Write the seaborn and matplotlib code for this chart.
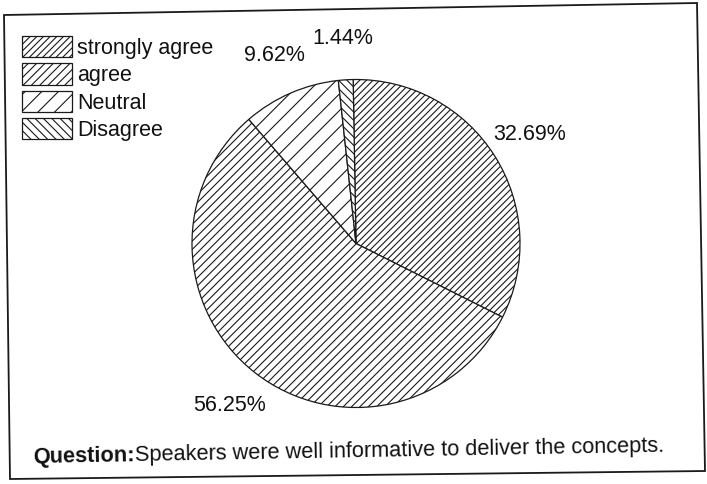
import numpy as np
import matplotlib
matplotlib.use("Agg")
import matplotlib.pyplot as plt
import seaborn as sns
from matplotlib.patches import Polygon

# Survey responses
categories = ["strongly agree", "agree", "Neutral", "Disagree"]
shares = [32.69, 56.25, 9.62, 1.44]
question_label = "Question:"
question_text = "Speakers were well informative to deliver the concepts."

sns.set_theme(style="white")
plt.rcParams["font.family"] = ["Liberation Sans", "DejaVu Sans"]
plt.rcParams["hatch.linewidth"] = 0.8
plt.rcParams["hatch.color"] = "#1a1a1a"

W, H = 707, 484
fig = plt.figure(figsize=(W / 100, H / 100), dpi=100)
fig.patch.set_facecolor("white")

# pie axes: centre (356, 243.5) px, radius 164 px
cx, cy, r = 356, 243.5, 164
ax = fig.add_axes([(cx - r) / W, (H - cy - r) / H, 2 * r / W, 2 * r / H])

hatches = ["/////", "////", "//", "\\\\\\\\"]
wedges, texts, autotexts = ax.pie(
    shares,
    startangle=91,
    counterclock=False,
    colors=["white"] * len(shares),
    autopct="%.2f%%",
    pctdistance=1.25,
    wedgeprops=dict(edgecolor="#1a1a1a", linewidth=0.9),
    textprops=dict(fontsize=15.5, color="#111111"),
)
for w, h in zip(wedges, hatches):
    w.set_hatch(h)
ax.set_xlim(-1, 1)
ax.set_ylim(-1, 1)
ax.set_aspect("equal")
ax.axis("off")

leg = fig.legend(
    wedges, categories,
    loc="upper left",
    bbox_to_anchor=(22 / W, 1 - 36 / H),
    frameon=False,
    fontsize=15.5,
    handlelength=2.3,
    handleheight=1.15,
    handletextpad=0.25,
    labelspacing=0.2,
    borderpad=0,
    borderaxespad=0,
)
for t in leg.get_texts():
    t.set_color("#111111")

# tilted frame around the whole chart
corners_px = [(4, 15), (697, 3), (705, 471), (10, 479)]
frame = Polygon([(x / W, 1 - y / H) for x, y in corners_px], closed=True,
                fill=False, edgecolor="#1a1a1a", linewidth=1.3,
                transform=fig.transFigure)
fig.add_artist(frame)

# question line, bold lead-in followed by regular text, slightly tilted
tilt = 1.0
fs_q = 15.7
x0, y0 = 33, 463
t1 = fig.text(x0 / W, 1 - y0 / H, question_label, fontsize=fs_q, fontweight="bold",
              ha="left", va="baseline", rotation=tilt, rotation_mode="anchor",
              color="#111111")
renderer = fig.canvas.get_renderer()
probe = fig.text(0, 0, question_label, fontsize=fs_q, fontweight="bold")
wpx = probe.get_window_extent(renderer).width
probe.remove()
ang = np.deg2rad(tilt)
x1 = x0 + wpx * np.cos(ang)
y1 = y0 - wpx * np.sin(ang)
fig.text(x1 / W, 1 - y1 / H, question_text, fontsize=fs_q,
         ha="left", va="baseline", rotation=tilt, rotation_mode="anchor",
         color="#111111")

fig.savefig("out.png", dpi=100, facecolor="white")
